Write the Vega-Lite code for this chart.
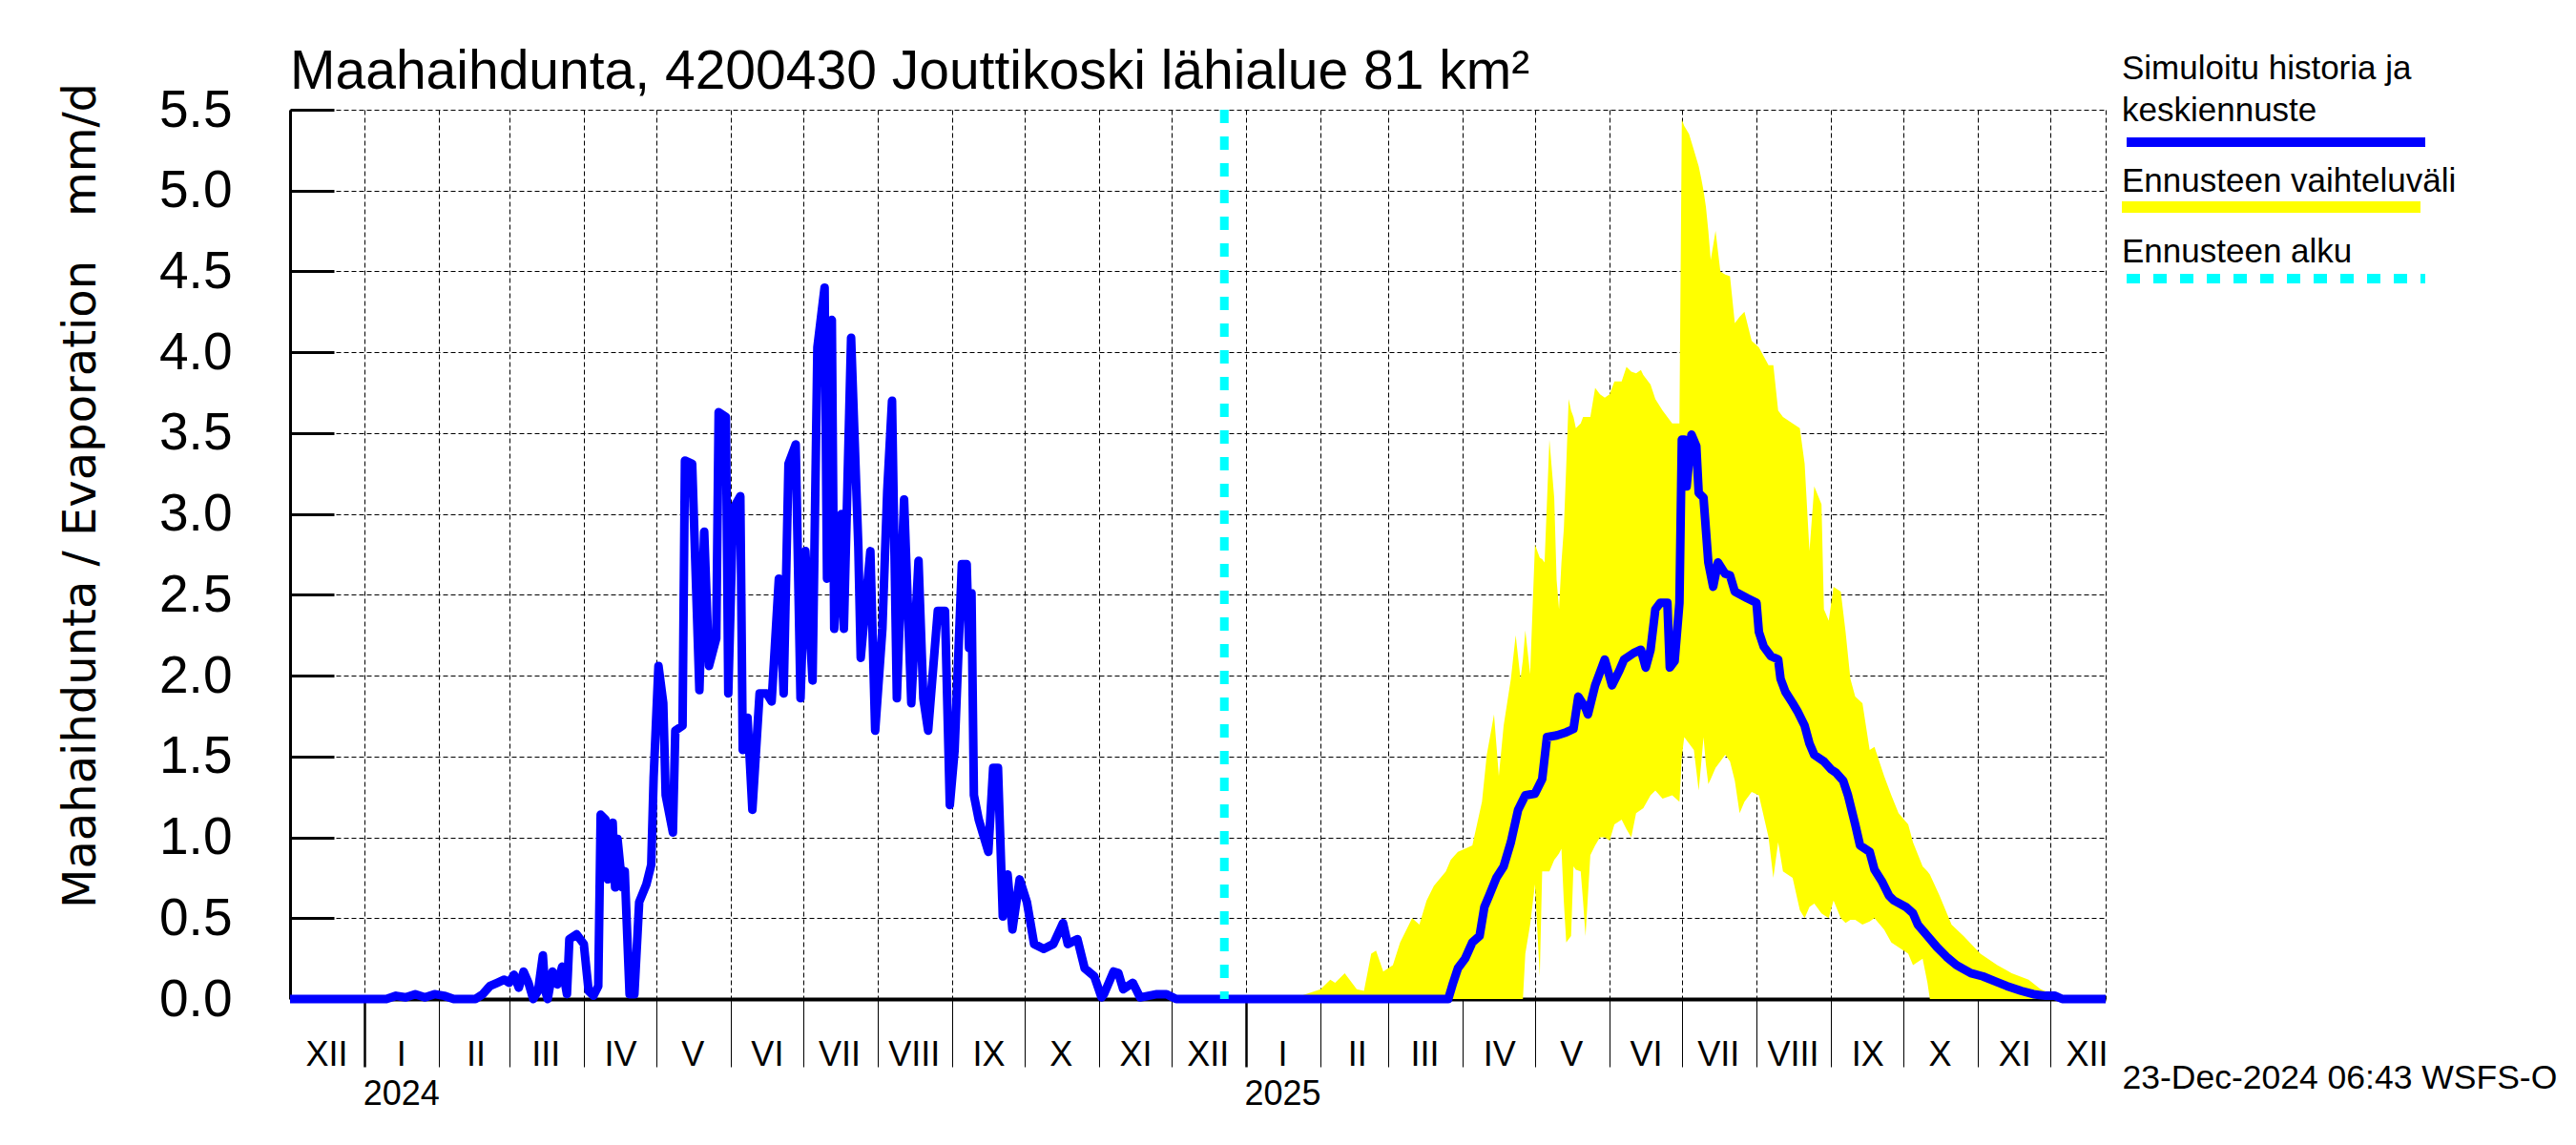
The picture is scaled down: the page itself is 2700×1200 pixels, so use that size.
{
  "$schema": "https://vega.github.io/schema/vega-lite/v6.json",
  "width": 1903,
  "height": 932,
  "autosize": "none",
  "padding": {"left": 304, "top": 115, "right": 493, "bottom": 153},
  "background": "white",
  "title": {
    "text": "Maahaihdunta, 4200430 Jouttikoski lähialue 81 km²",
    "anchor": "start",
    "frame": "group",
    "fontSize": 57,
    "fontWeight": "normal",
    "font": "Liberation Sans",
    "color": "black",
    "baseline": "alphabetic",
    "offset": -95
  },
  "config": {
    "font": "Liberation Sans",
    "view": {"stroke": null},
    "axisX": {
      "grid": true, "gridColor": "black", "gridDash": [5, 3], "gridWidth": 1, "gridOpacity": 1,
      "tickSize": 71, "tickColor": "black",
      "domainColor": "black", "domainWidth": 4,
      "labelFontSize": 36, "labelColor": "black", "labelOffset": 38, "labelPadding": -2,
      "labelBaseline": "alphabetic", "labelAlign": "center", "labelLineHeight": 41,
      "labelOverlap": false, "labelFlush": false, "labelBound": false,
      "titleFontSize": 35.5, "titleFontWeight": "normal", "titleColor": "black",
      "titleX": 1920, "titleY": 93, "titleAlign": "left", "titleBaseline": "alphabetic",
      "zindex": 1
    },
    "axisY": {
      "grid": true, "gridColor": "black", "gridDash": [5, 3], "gridWidth": 1, "gridOpacity": 1,
      "tickSize": -46, "tickWidth": 3, "tickColor": "black",
      "domainColor": "black", "domainWidth": 3,
      "labelFontSize": 55, "labelColor": "black", "labelPadding": 107,
      "labelOverlap": false, "labelFlush": false, "labelBound": false,
      "titleFont": "DejaVu Sans", "titleFontSize": 48, "titleFontWeight": "normal", "titleColor": "black",
      "titleAngle": 270, "titleAlign": "center", "titleBaseline": "alphabetic",
      "titleX": -205, "titleY": 404,
      "zindex": 1
    },
    "legend": {"padding": 0}
  },
  "datasets": {
    "blue": [
      {"date":"2023-12-01","v":0},{"date":"2024-01-10","v":0},{"date":"2024-01-14","v":0.02},{"date":"2024-01-18","v":0.01},
      {"date":"2024-01-22","v":0.03},{"date":"2024-01-26","v":0.01},{"date":"2024-01-30","v":0.03},{"date":"2024-02-03","v":0.02},
      {"date":"2024-02-07","v":0},{"date":"2024-02-16","v":0},{"date":"2024-02-19","v":0.03},{"date":"2024-02-22","v":0.08},
      {"date":"2024-02-25","v":0.1},{"date":"2024-02-28","v":0.12},{"date":"2024-03-01","v":0.1},{"date":"2024-03-03","v":0.15},
      {"date":"2024-03-05","v":0.07},{"date":"2024-03-07","v":0.17},{"date":"2024-03-09","v":0.1},{"date":"2024-03-11","v":0},
      {"date":"2024-03-13","v":0.05},{"date":"2024-03-15","v":0.27},{"date":"2024-03-16","v":0.05},{"date":"2024-03-17","v":0},
      {"date":"2024-03-19","v":0.17},{"date":"2024-03-21","v":0.09},{"date":"2024-03-23","v":0.2},{"date":"2024-03-25","v":0.03},
      {"date":"2024-03-26","v":0.37},{"date":"2024-03-29","v":0.4},{"date":"2024-04-01","v":0.34},{"date":"2024-04-03","v":0.05},
      {"date":"2024-04-05","v":0.02},{"date":"2024-04-07","v":0.08},{"date":"2024-04-08","v":1.14},{"date":"2024-04-10","v":1.11},
      {"date":"2024-04-11","v":0.74},{"date":"2024-04-13","v":1.09},{"date":"2024-04-14","v":0.69},{"date":"2024-04-15","v":0.99},
      {"date":"2024-04-17","v":0.69},{"date":"2024-04-18","v":0.79},{"date":"2024-04-20","v":0.03},{"date":"2024-04-22","v":0.03},
      {"date":"2024-04-24","v":0.6},{"date":"2024-04-27","v":0.71},{"date":"2024-04-29","v":0.83},{"date":"2024-04-30","v":1.37},
      {"date":"2024-05-02","v":2.06},{"date":"2024-05-04","v":1.83},{"date":"2024-05-05","v":1.26},{"date":"2024-05-08","v":1.03},
      {"date":"2024-05-09","v":1.66},{"date":"2024-05-12","v":1.69},{"date":"2024-05-13","v":3.33},{"date":"2024-05-16","v":3.31},
      {"date":"2024-05-19","v":1.91},{"date":"2024-05-21","v":2.89},{"date":"2024-05-23","v":2.06},{"date":"2024-05-26","v":2.23},
      {"date":"2024-05-27","v":3.63},{"date":"2024-05-30","v":3.6},{"date":"2024-05-31","v":1.89},{"date":"2024-06-02","v":3.03},
      {"date":"2024-06-05","v":3.11},{"date":"2024-06-06","v":1.54},{"date":"2024-06-08","v":1.74},{"date":"2024-06-10","v":1.17},
      {"date":"2024-06-13","v":1.89},{"date":"2024-06-16","v":1.89},{"date":"2024-06-18","v":1.84},{"date":"2024-06-21","v":2.6},
      {"date":"2024-06-23","v":1.89},{"date":"2024-06-25","v":3.31},{"date":"2024-06-28","v":3.43},{"date":"2024-06-30","v":1.86},
      {"date":"2024-07-02","v":2.77},{"date":"2024-07-05","v":1.97},{"date":"2024-07-07","v":4.03},{"date":"2024-07-10","v":4.4},
      {"date":"2024-07-11","v":2.6},{"date":"2024-07-13","v":4.2},{"date":"2024-07-14","v":2.29},{"date":"2024-07-17","v":3.0},
      {"date":"2024-07-18","v":2.29},{"date":"2024-07-21","v":4.09},{"date":"2024-07-24","v":2.8},{"date":"2024-07-25","v":2.11},
      {"date":"2024-07-29","v":2.77},{"date":"2024-07-31","v":1.66},{"date":"2024-08-03","v":2.29},{"date":"2024-08-05","v":3.14},
      {"date":"2024-08-07","v":3.7},{"date":"2024-08-09","v":1.86},{"date":"2024-08-12","v":3.09},{"date":"2024-08-15","v":1.83},
      {"date":"2024-08-18","v":2.71},{"date":"2024-08-20","v":1.86},{"date":"2024-08-22","v":1.66},{"date":"2024-08-26","v":2.4},
      {"date":"2024-08-29","v":2.4},{"date":"2024-08-31","v":1.2},{"date":"2024-09-02","v":1.54},{"date":"2024-09-05","v":2.69},
      {"date":"2024-09-07","v":2.69},{"date":"2024-09-08","v":2.17},{"date":"2024-09-09","v":2.51},{"date":"2024-09-10","v":1.26},
      {"date":"2024-09-12","v":1.11},{"date":"2024-09-16","v":0.91},{"date":"2024-09-18","v":1.43},{"date":"2024-09-20","v":1.43},
      {"date":"2024-09-22","v":0.51},{"date":"2024-09-24","v":0.77},{"date":"2024-09-26","v":0.43},{"date":"2024-09-29","v":0.74},
      {"date":"2024-10-02","v":0.6},{"date":"2024-10-05","v":0.34},{"date":"2024-10-09","v":0.31},{"date":"2024-10-13","v":0.34},
      {"date":"2024-10-17","v":0.47},{"date":"2024-10-19","v":0.34},{"date":"2024-10-23","v":0.37},{"date":"2024-10-26","v":0.19},
      {"date":"2024-10-30","v":0.14},{"date":"2024-11-02","v":0.01},{"date":"2024-11-03","v":0.03},{"date":"2024-11-07","v":0.17},
      {"date":"2024-11-09","v":0.16},{"date":"2024-11-11","v":0.06},{"date":"2024-11-15","v":0.1},{"date":"2024-11-18","v":0.01},
      {"date":"2024-11-25","v":0.03},{"date":"2024-11-29","v":0.03},{"date":"2024-12-03","v":0},{"date":"2024-12-23","v":0},
      {"date":"2025-03-26","v":0},{"date":"2025-03-28","v":0.1},{"date":"2025-03-30","v":0.19},{"date":"2025-04-02","v":0.25},
      {"date":"2025-04-05","v":0.35},{"date":"2025-04-08","v":0.39},{"date":"2025-04-10","v":0.57},{"date":"2025-04-12","v":0.64},
      {"date":"2025-04-15","v":0.75},{"date":"2025-04-18","v":0.82},{"date":"2025-04-21","v":0.97},{"date":"2025-04-24","v":1.17},
      {"date":"2025-04-27","v":1.26},{"date":"2025-05-01","v":1.27},{"date":"2025-05-04","v":1.36},{"date":"2025-05-06","v":1.62},
      {"date":"2025-05-10","v":1.63},{"date":"2025-05-14","v":1.65},{"date":"2025-05-17","v":1.67},{"date":"2025-05-19","v":1.87},
      {"date":"2025-05-22","v":1.8},{"date":"2025-05-23","v":1.76},{"date":"2025-05-26","v":1.94},{"date":"2025-05-30","v":2.1},
      {"date":"2025-06-02","v":1.94},{"date":"2025-06-05","v":2.03},{"date":"2025-06-07","v":2.1},{"date":"2025-06-11","v":2.14},
      {"date":"2025-06-14","v":2.16},{"date":"2025-06-16","v":2.05},{"date":"2025-06-18","v":2.16},{"date":"2025-06-20","v":2.41},
      {"date":"2025-06-22","v":2.45},{"date":"2025-06-25","v":2.45},{"date":"2025-06-26","v":2.05},{"date":"2025-06-28","v":2.09},
      {"date":"2025-06-30","v":2.45},{"date":"2025-07-01","v":3.46},{"date":"2025-07-02","v":3.46},{"date":"2025-07-03","v":3.17},
      {"date":"2025-07-05","v":3.49},{"date":"2025-07-07","v":3.42},{"date":"2025-07-08","v":3.13},{"date":"2025-07-10","v":3.1},
      {"date":"2025-07-12","v":2.7},{"date":"2025-07-14","v":2.55},{"date":"2025-07-16","v":2.7},{"date":"2025-07-19","v":2.63},
      {"date":"2025-07-21","v":2.62},{"date":"2025-07-23","v":2.52},{"date":"2025-07-28","v":2.48},{"date":"2025-08-01","v":2.45},
      {"date":"2025-08-02","v":2.27},{"date":"2025-08-04","v":2.18},{"date":"2025-08-07","v":2.12},{"date":"2025-08-10","v":2.1},
      {"date":"2025-08-11","v":1.98},{"date":"2025-08-13","v":1.9},{"date":"2025-08-16","v":1.83},{"date":"2025-08-18","v":1.78},
      {"date":"2025-08-21","v":1.69},{"date":"2025-08-23","v":1.58},{"date":"2025-08-25","v":1.51},{"date":"2025-08-29","v":1.47},
      {"date":"2025-09-01","v":1.42},{"date":"2025-09-03","v":1.4},{"date":"2025-09-06","v":1.35},{"date":"2025-09-08","v":1.26},
      {"date":"2025-09-11","v":1.08},{"date":"2025-09-13","v":0.95},{"date":"2025-09-17","v":0.91},{"date":"2025-09-19","v":0.8},
      {"date":"2025-09-22","v":0.73},{"date":"2025-09-25","v":0.64},{"date":"2025-09-27","v":0.61},{"date":"2025-10-02","v":0.57},
      {"date":"2025-10-05","v":0.53},{"date":"2025-10-07","v":0.46},{"date":"2025-10-11","v":0.39},{"date":"2025-10-15","v":0.32},
      {"date":"2025-10-19","v":0.26},{"date":"2025-10-23","v":0.21},{"date":"2025-10-29","v":0.16},{"date":"2025-11-03","v":0.14},
      {"date":"2025-11-08","v":0.11},{"date":"2025-11-13","v":0.08},{"date":"2025-11-19","v":0.05},{"date":"2025-11-24","v":0.03},
      {"date":"2025-11-29","v":0.02},{"date":"2025-12-03","v":0.02},{"date":"2025-12-06","v":0},{"date":"2025-12-24","v":0}
    ],
    "band": [
      {"date":"2024-12-23","hi":0,"lo":0},{"date":"2025-01-23","hi":0,"lo":0},{"date":"2025-01-24","hi":0.02,"lo":0},
      {"date":"2025-02-01","hi":0.06,"lo":0},{"date":"2025-02-05","hi":0.12,"lo":0},{"date":"2025-02-07","hi":0.1,"lo":0},
      {"date":"2025-02-11","hi":0.16,"lo":0},{"date":"2025-02-16","hi":0.06,"lo":0},{"date":"2025-02-19","hi":0.05,"lo":0},
      {"date":"2025-02-22","hi":0.28,"lo":0},{"date":"2025-02-24","hi":0.3,"lo":0},{"date":"2025-02-27","hi":0.17,"lo":0},
      {"date":"2025-03-03","hi":0.21,"lo":0},{"date":"2025-03-06","hi":0.35,"lo":0},{"date":"2025-03-11","hi":0.5,"lo":0},
      {"date":"2025-03-14","hi":0.46,"lo":0},{"date":"2025-03-17","hi":0.61,"lo":0},{"date":"2025-03-20","hi":0.7,"lo":0},
      {"date":"2025-03-25","hi":0.79,"lo":0},{"date":"2025-03-27","hi":0.86,"lo":0},{"date":"2025-03-30","hi":0.91,"lo":0},
      {"date":"2025-04-02","hi":0.93,"lo":0},{"date":"2025-04-05","hi":0.95,"lo":0},{"date":"2025-04-09","hi":1.22,"lo":0},
      {"date":"2025-04-11","hi":1.51,"lo":0},{"date":"2025-04-14","hi":1.76,"lo":0},{"date":"2025-04-16","hi":1.38,"lo":0},
      {"date":"2025-04-18","hi":1.69,"lo":0},{"date":"2025-04-21","hi":1.98,"lo":0},{"date":"2025-04-23","hi":2.25,"lo":0},
      {"date":"2025-04-25","hi":1.98,"lo":0},{"date":"2025-04-26","hi":2.1,"lo":0},{"date":"2025-04-27","hi":2.28,"lo":0.28},
      {"date":"2025-04-29","hi":2.01,"lo":0.46},{"date":"2025-05-01","hi":2.81,"lo":0.71},{"date":"2025-05-03","hi":2.73,"lo":0.14},
      {"date":"2025-05-04","hi":2.72,"lo":0.79},{"date":"2025-05-05","hi":2.7,"lo":0.79},{"date":"2025-05-07","hi":3.46,"lo":0.79},
      {"date":"2025-05-09","hi":3.1,"lo":0.86},{"date":"2025-05-10","hi":2.59,"lo":0.88},{"date":"2025-05-11","hi":2.41,"lo":0.9},
      {"date":"2025-05-12","hi":2.7,"lo":0.93},{"date":"2025-05-13","hi":2.91,"lo":0.6},{"date":"2025-05-14","hi":3.3,"lo":0.35},
      {"date":"2025-05-15","hi":3.71,"lo":0.37},{"date":"2025-05-16","hi":3.64,"lo":0.39},{"date":"2025-05-17","hi":3.6,"lo":0.82},
      {"date":"2025-05-18","hi":3.53,"lo":0.8},{"date":"2025-05-20","hi":3.56,"lo":0.79},{"date":"2025-05-21","hi":3.6,"lo":0.6},
      {"date":"2025-05-22","hi":3.6,"lo":0.39},{"date":"2025-05-24","hi":3.6,"lo":0.89},{"date":"2025-05-26","hi":3.78,"lo":0.95},
      {"date":"2025-05-28","hi":3.74,"lo":1.0},{"date":"2025-05-30","hi":3.72,"lo":1.0},{"date":"2025-06-01","hi":3.74,"lo":0.98},
      {"date":"2025-06-03","hi":3.82,"lo":1.08},{"date":"2025-06-06","hi":3.82,"lo":1.11},{"date":"2025-06-08","hi":3.91,"lo":1.05},
      {"date":"2025-06-10","hi":3.88,"lo":1.0},{"date":"2025-06-12","hi":3.87,"lo":1.15},{"date":"2025-06-14","hi":3.89,"lo":1.17},
      {"date":"2025-06-15","hi":3.86,"lo":1.18},{"date":"2025-06-18","hi":3.8,"lo":1.26},{"date":"2025-06-20","hi":3.71,"lo":1.29},
      {"date":"2025-06-23","hi":3.64,"lo":1.24},{"date":"2025-06-27","hi":3.56,"lo":1.26},{"date":"2025-06-30","hi":3.56,"lo":1.22},
      {"date":"2025-07-01","hi":5.44,"lo":1.5},{"date":"2025-07-02","hi":5.4,"lo":1.62},{"date":"2025-07-04","hi":5.35,"lo":1.58},
      {"date":"2025-07-06","hi":5.25,"lo":1.54},{"date":"2025-07-08","hi":5.15,"lo":1.29},{"date":"2025-07-09","hi":5.08,"lo":1.45},
      {"date":"2025-07-10","hi":5.0,"lo":1.62},{"date":"2025-07-11","hi":4.9,"lo":1.45},{"date":"2025-07-12","hi":4.75,"lo":1.33},
      {"date":"2025-07-13","hi":4.57,"lo":1.36},{"date":"2025-07-15","hi":4.75,"lo":1.43},{"date":"2025-07-17","hi":4.5,"lo":1.47},
      {"date":"2025-07-19","hi":4.48,"lo":1.51},{"date":"2025-07-21","hi":4.47,"lo":1.47},{"date":"2025-07-23","hi":4.18,"lo":1.35},
      {"date":"2025-07-25","hi":4.22,"lo":1.15},{"date":"2025-07-27","hi":4.25,"lo":1.22},{"date":"2025-07-30","hi":4.07,"lo":1.28},
      {"date":"2025-08-02","hi":4.03,"lo":1.26},{"date":"2025-08-06","hi":3.92,"lo":1.0},{"date":"2025-08-08","hi":3.92,"lo":0.75},
      {"date":"2025-08-10","hi":3.64,"lo":0.97},{"date":"2025-08-12","hi":3.6,"lo":0.79},{"date":"2025-08-16","hi":3.56,"lo":0.75},
      {"date":"2025-08-19","hi":3.53,"lo":0.55},{"date":"2025-08-21","hi":3.31,"lo":0.5},{"date":"2025-08-23","hi":2.77,"lo":0.57},
      {"date":"2025-08-25","hi":3.17,"lo":0.59},{"date":"2025-08-28","hi":3.06,"lo":0.53},{"date":"2025-08-29","hi":2.41,"lo":0.52},
      {"date":"2025-08-31","hi":2.34,"lo":0.5},{"date":"2025-09-02","hi":2.55,"lo":0.61},{"date":"2025-09-05","hi":2.52,"lo":0.5},
      {"date":"2025-09-07","hi":2.27,"lo":0.47},{"date":"2025-09-09","hi":1.98,"lo":0.49},{"date":"2025-09-11","hi":1.87,"lo":0.49},
      {"date":"2025-09-14","hi":1.83,"lo":0.46},{"date":"2025-09-17","hi":1.54,"lo":0.48},{"date":"2025-09-19","hi":1.56,"lo":0.5},
      {"date":"2025-09-23","hi":1.38,"lo":0.43},{"date":"2025-09-26","hi":1.26,"lo":0.35},{"date":"2025-09-29","hi":1.15,"lo":0.32},
      {"date":"2025-10-03","hi":1.08,"lo":0.28},{"date":"2025-10-05","hi":0.97,"lo":0.21},{"date":"2025-10-09","hi":0.82,"lo":0.25},
      {"date":"2025-10-11","hi":0.79,"lo":0.1},{"date":"2025-10-12","hi":0.77,"lo":0},{"date":"2025-10-16","hi":0.64,"lo":0},
      {"date":"2025-10-21","hi":0.46,"lo":0},{"date":"2025-10-26","hi":0.39,"lo":0},{"date":"2025-11-02","hi":0.28,"lo":0},
      {"date":"2025-11-09","hi":0.21,"lo":0},{"date":"2025-11-15","hi":0.16,"lo":0},{"date":"2025-11-22","hi":0.12,"lo":0},
      {"date":"2025-11-27","hi":0.06,"lo":0},{"date":"2025-12-02","hi":0.03,"lo":0},{"date":"2025-12-06","hi":0,"lo":0}
    ],
    "start": [{"date": "2024-12-23"}]
  },
  "encoding": {
    "x": {
      "field": "date",
      "type": "temporal",
      "scale": {"type": "utc", "domain": [{"year": 2023, "month": 12, "date": 1, "utc": true}, {"year": 2025, "month": 12, "date": 24, "utc": true}]},
      "axis": {
        "title": "23-Dec-2024 06:43 WSFS-O",
        "values": [
          {"year":2023,"month":12,"date":1,"utc":true},
          {"year":2024,"month":1,"date":1,"utc":true},{"year":2024,"month":2,"date":1,"utc":true},{"year":2024,"month":3,"date":1,"utc":true},
          {"year":2024,"month":4,"date":1,"utc":true},{"year":2024,"month":5,"date":1,"utc":true},{"year":2024,"month":6,"date":1,"utc":true},
          {"year":2024,"month":7,"date":1,"utc":true},{"year":2024,"month":8,"date":1,"utc":true},{"year":2024,"month":9,"date":1,"utc":true},
          {"year":2024,"month":10,"date":1,"utc":true},{"year":2024,"month":11,"date":1,"utc":true},{"year":2024,"month":12,"date":1,"utc":true},
          {"year":2025,"month":1,"date":1,"utc":true},{"year":2025,"month":2,"date":1,"utc":true},{"year":2025,"month":3,"date":1,"utc":true},
          {"year":2025,"month":4,"date":1,"utc":true},{"year":2025,"month":5,"date":1,"utc":true},{"year":2025,"month":6,"date":1,"utc":true},
          {"year":2025,"month":7,"date":1,"utc":true},{"year":2025,"month":8,"date":1,"utc":true},{"year":2025,"month":9,"date":1,"utc":true},
          {"year":2025,"month":10,"date":1,"utc":true},{"year":2025,"month":11,"date":1,"utc":true},{"year":2025,"month":12,"date":1,"utc":true},
          {"year":2025,"month":12,"date":24,"utc":true}
        ],
        "labelExpr": "utcdate(datum.value) != 1 ? '' : (utcmonth(datum.value) == 0 ? ['I', '' + utcyear(datum.value)] : ['I','II','III','IV','V','VI','VII','VIII','IX','X','XI','XII'][utcmonth(datum.value)])",
        "tickWidth": {"condition": {"test": "utcmonth(datum.value) == 0", "value": 2.5}, "value": 1},
        "tickOpacity": {"condition": {"test": "utcyear(datum.value) == 2023 || utcdate(datum.value) != 1", "value": 0}, "value": 1}
      }
    }
  },
  "layer": [
    {
      "data": {"name": "band"},
      "mark": {"type": "area", "interpolate": "linear"},
      "encoding": {
        "y": {
          "field": "hi", "type": "quantitative",
          "scale": {"domain": [0, 5.5], "nice": false, "zero": true},
          "axis": {"title": "Maahaihdunta / Evaporation\u00a0\u00a0\u00a0mm/d", "values": [0, 0.5, 1, 1.5, 2, 2.5, 3, 3.5, 4, 4.5, 5, 5.5], "format": ".1f"}
        },
        "y2": {"field": "lo"},
        "fill": {
          "datum": "Ennusteen vaihteluväli",
          "scale": {"range": ["#ffff00"]},
          "legend": {
            "orient": "none", "legendX": 1920, "legendY": 58,
            "title": "Ennusteen vaihteluväli", "titleFontSize": 35, "titleFontWeight": "normal", "titleColor": "black",
            "titleBaseline": "top", "titlePadding": 4, "titleLimit": 1000,
            "labelExpr": "''", "symbolType": "M-1,-1.2H61.6V1.2H-1Z", "symbolSize": 100, "symbolStrokeWidth": 0, "symbolOpacity": 1
          }
        }
      }
    },
    {
      "data": {"name": "blue"},
      "mark": {"type": "line", "strokeWidth": 9, "strokeJoin": "round"},
      "encoding": {
        "y": {"field": "v", "type": "quantitative", "axis": {"title": "Maahaihdunta / Evaporation\u00a0\u00a0\u00a0mm/d"}},
        "color": {
          "datum": "Simuloitu historia ja keskiennuste",
          "scale": {"range": ["#0000ff"]},
          "legend": {
            "orient": "none", "legendX": 1920, "legendY": -60,
            "title": ["Simuloitu historia ja", "keskiennuste"], "titleFontSize": 35, "titleFontWeight": "normal", "titleColor": "black",
            "titleBaseline": "top", "titleLineHeight": 44, "titlePadding": 5, "titleLimit": 1000,
            "labelExpr": "''", "symbolType": "M-1,0H61.6", "symbolSize": 100, "symbolStrokeWidth": 10, "symbolOpacity": 1
          }
        }
      }
    },
    {
      "data": {"name": "start"},
      "mark": {"type": "rule", "color": "#00ffff", "strokeWidth": 9},
      "encoding": {
        "strokeDash": {
          "datum": "Ennusteen alku",
          "scale": {"range": [[14, 14]]},
          "legend": {
            "orient": "none", "legendX": 1920, "legendY": 132,
            "title": "Ennusteen alku", "titleFontSize": 35, "titleFontWeight": "normal", "titleColor": "black",
            "titleBaseline": "top", "titlePadding": 0, "titleLimit": 1000,
            "labelExpr": "''", "symbolType": "M-1,0H61.6", "symbolSize": 100, "symbolStrokeWidth": 10,
            "symbolStrokeColor": "#00ffff", "symbolDash": [15, 13], "symbolOpacity": 1
          }
        }
      }
    }
  ]
}
